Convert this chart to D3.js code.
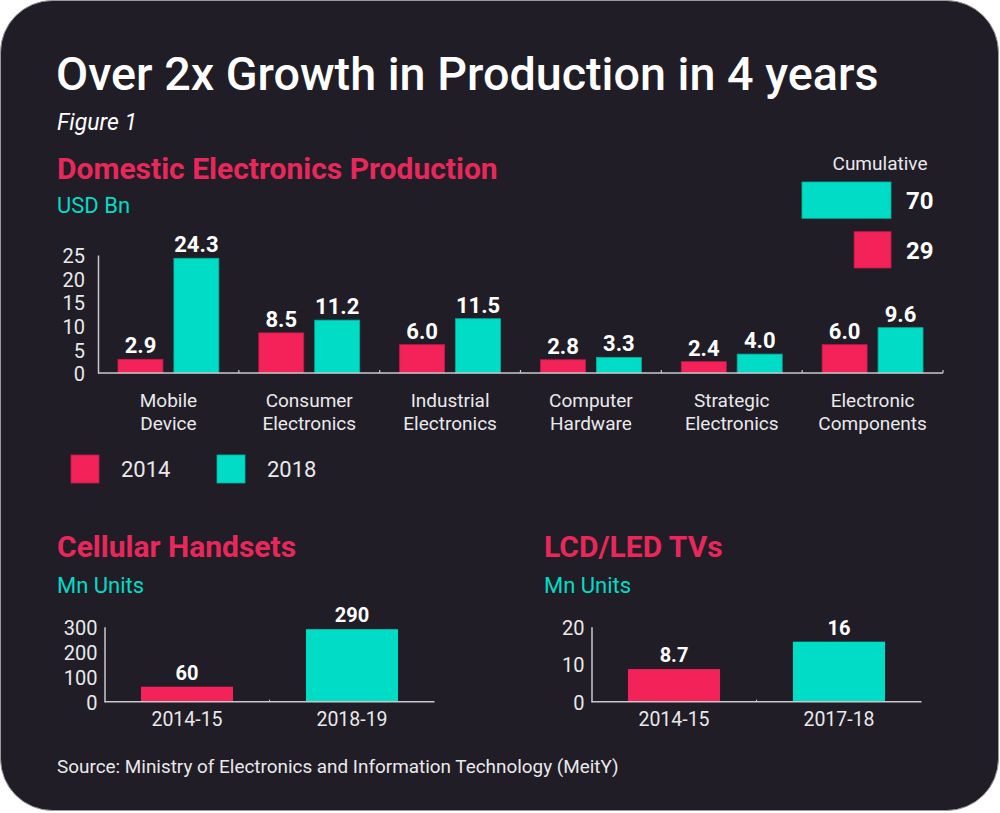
<!DOCTYPE html>
<html>
<head>
<meta charset="utf-8">
<script src="https://cdn.jsdelivr.net/npm/d3@7"></script>
<style>
  html, body { margin: 0; padding: 0; background: #ffffff; }
  svg { display: block; font-family: Roboto, "Noto Sans", sans-serif; }
</style>
</head>
<body>
<svg id="chart" width="1000" height="813"></svg>
<script>
// ---------- data ----------
const categories = [["Mobile", "Device"], ["Consumer", "Electronics"], ["Industrial", "Electronics"],
                    ["Computer", "Hardware"], ["Strategic", "Electronics"], ["Electronic", "Components"]];
const seriesYears = ["2014", "2018"];
const values2014 = [2.9, 8.5, 6.0, 2.8, 2.4, 6.0];
const values2018 = [24.3, 11.2, 11.5, 3.3, 4.0, 9.6];
const mainTicks = [0, 5, 10, 15, 20, 25];

const cumulativeLabels = ["2018", "2014"];
const cumulativeValues = [70, 29];

const handsetYears = ["2014-15", "2018-19"];
const handsetValues = [60, 290];
const handsetTicks = [0, 100, 200, 300];

const tvYears = ["2014-15", "2017-18"];
const tvValues = [8.7, 16];
const tvLabels = ["8.7", "16"];
const tvTicks = [0, 10, 20];

// ---------- styles ----------
const RED = "#f32259", TEAL = "#00dcc6";
const RED_T = "#e8285a";
const BG = "#201d27";
const AXIS = "#c9c9cc";
const TXT = "#e9e9ea";

const svg = d3.select("#chart");

svg.append("rect").attr("x", 0.5).attr("y", 0.5).attr("width", 998).attr("height", 810)
  .attr("rx", 52).attr("ry", 52).attr("fill", BG).attr("stroke", "#9a9a9a").attr("stroke-width", 1);

// titles
svg.append("text").attr("x", 56).attr("y", 90).attr("fill", "#ffffff")
  .attr("font-size", 46.7).attr("font-weight", 500).text("Over 2x Growth in Production in 4 years");
svg.append("text").attr("x", 57).attr("y", 130).attr("fill", "#ffffff")
  .attr("font-size", 23).attr("font-style", "italic").text("Figure 1");
svg.append("text").attr("x", 57).attr("y", 179).attr("fill", RED_T)
  .attr("font-size", 30).attr("font-weight", 700).text("Domestic Electronics Production");
svg.append("text").attr("x", 57).attr("y", 213).attr("fill", TEAL)
  .attr("font-size", 22).text("USD Bn");

// ---------- main grouped bar chart ----------
const data = categories.map((c, i) => ({ cat: c, vals: [values2014[i], values2018[i]] }));
const x0 = d3.scaleBand().domain(d3.range(categories.length)).range([98, 943]).padding(0);
const x1 = d3.scaleBand().domain(seriesYears).range([0, x0.bandwidth()]).paddingInner(0.196).paddingOuter(0.357);
const y = d3.scaleLinear().domain([0, 25]).range([373, 255]);
const colors = d3.scaleOrdinal().domain(seriesYears).range([RED, TEAL]);

const main = svg.append("g");
const groups = main.selectAll("g.cat").data(data).join("g")
  .attr("transform", (d, i) => `translate(${x0(i)},0)`);
groups.selectAll("rect").data(d => d.vals.map((v, j) => ({ year: seriesYears[j], v })))
  .join("rect")
  .attr("x", d => x1(d.year)).attr("width", x1.bandwidth())
  .attr("y", d => y(d.v)).attr("height", d => y(0) - y(d.v))
  .attr("fill", d => colors(d.year))
  .attr("stroke", d => d3.color(colors(d.year)).darker(0.6)).attr("stroke-width", 0.8);
groups.selectAll("text.val").data(d => d.vals.map((v, j) => ({ year: seriesYears[j], v })))
  .join("text").attr("class", "val")
  .attr("x", d => x1(d.year) + x1.bandwidth() / 2).attr("y", d => y(d.v) - 6)
  .attr("text-anchor", "middle").attr("fill", "#ffffff").attr("font-size", 22).attr("font-weight", 700)
  .text(d => d3.format(".1f")(d.v));
groups.each(function (d) {
  const t = d3.select(this).append("text").attr("text-anchor", "middle").attr("fill", TXT).attr("font-size", 19);
  t.append("tspan").attr("x", x0.bandwidth() / 2).attr("y", 407).text(d.cat[0]);
  t.append("tspan").attr("x", x0.bandwidth() / 2).attr("y", 430).text(d.cat[1]);
});

// axes
const yAxisG = main.append("g").attr("transform", "translate(98,0)")
  .call(d3.axisLeft(y).tickValues(mainTicks).tickSize(0).tickPadding(13));
yAxisG.select(".domain").attr("stroke", AXIS).attr("stroke-width", 1.5);
yAxisG.selectAll("text").attr("fill", TXT).attr("font-size", 20).attr("font-family", "Roboto").attr("dy", "0.38em");

const xEdges = d3.range(categories.length + 1).map(i => i === categories.length ? 943 : x0(i));
main.append("line").attr("x1", 98).attr("x2", 943).attr("y1", y(0)).attr("y2", y(0))
  .attr("stroke", AXIS).attr("stroke-width", 1.5);
main.selectAll("line.tk").data(xEdges.slice(1)).join("line").attr("class", "tk")
  .attr("x1", d => d).attr("x2", d => d).attr("y1", y(0)).attr("y2", y(0) - 3)
  .attr("stroke", AXIS).attr("stroke-width", 1.2);

// legend
const leg = svg.append("g");
const legX = [71, 217];
seriesYears.forEach((s, i) => {
  leg.append("rect").attr("x", legX[i]).attr("y", 455).attr("width", 28).attr("height", 28)
    .attr("fill", colors(s)).attr("stroke", d3.color(colors(s)).darker(0.6)).attr("stroke-width", 0.8);
  leg.append("text").attr("x", legX[i] + 50).attr("y", 477).attr("fill", TXT).attr("font-size", 22).text(s);
});

// cumulative
const cx = d3.scaleLinear().domain([0, 70]).range([0, 89]);
const cy = d3.scaleBand().domain(cumulativeLabels).range([182, 268]).paddingInner(0.27);
svg.append("text").attr("x", 880).attr("y", 170).attr("text-anchor", "middle").attr("fill", TXT)
  .attr("font-size", 19).text("Cumulative");
const cum = svg.append("g");
cumulativeLabels.forEach((l, i) => {
  const v = cumulativeValues[i];
  cum.append("rect").attr("x", 891 - cx(v)).attr("width", cx(v)).attr("y", cy(l)).attr("height", cy.bandwidth())
    .attr("fill", colors(l)).attr("stroke", d3.color(colors(l)).darker(0.6)).attr("stroke-width", 0.8);
  cum.append("text").attr("x", 906).attr("y", cy(l) + cy.bandwidth() / 2 + 9).attr("fill", "#ffffff")
    .attr("font-size", 24).attr("font-weight", 700).text(v);
});

// ---------- small charts ----------
function smallChart(left, title, cats, vals, labels, ticks, maxV) {
  const g = svg.append("g");
  g.append("text").attr("x", left).attr("y", 557).attr("fill", RED_T)
    .attr("font-size", 30).attr("font-weight", 700).text(title);
  g.append("text").attr("x", left).attr("y", 593).attr("fill", TEAL).attr("font-size", 22).text("Mn Units");
  const ax = left + 47.5;
  const xs = d3.scaleBand().domain(cats).range([ax, ax + 330]).paddingInner(0.442).paddingOuter(0.221);
  const ys = d3.scaleLinear().domain([0, maxV]).range([701.7, 626.7]);
  g.selectAll("rect").data(cats).join("rect")
    .attr("x", d => xs(d)).attr("width", xs.bandwidth())
    .attr("y", (d, i) => ys(vals[i])).attr("height", (d, i) => ys(0) - ys(vals[i]))
    .attr("fill", (d, i) => i === 0 ? RED : TEAL);
  g.selectAll("text.val").data(cats).join("text").attr("class", "val")
    .attr("x", d => xs(d) + xs.bandwidth() / 2).attr("y", (d, i) => ys(vals[i]) - 7)
    .attr("text-anchor", "middle").attr("fill", "#ffffff").attr("font-size", 20).attr("font-weight", 700)
    .text((d, i) => labels[i]);
  g.selectAll("text.cat").data(cats).join("text").attr("class", "cat")
    .attr("x", d => xs(d) + xs.bandwidth() / 2).attr("y", 726)
    .attr("text-anchor", "middle").attr("fill", TXT).attr("font-size", 19.5).text(d => d);
  const ya = g.append("g").attr("transform", `translate(${ax},0)`)
    .call(d3.axisLeft(ys).tickValues(ticks).tickSize(0).tickPadding(7));
  ya.select(".domain").attr("stroke", AXIS).attr("stroke-width", 1.5);
  ya.selectAll("text").attr("fill", TXT).attr("font-size", 20).attr("font-family", "Roboto").attr("dy", "0.38em");
  g.append("line").attr("x1", ax).attr("x2", ax + 330).attr("y1", ys(0)).attr("y2", ys(0))
    .attr("stroke", AXIS).attr("stroke-width", 1.5);
  g.append("line").attr("x1", ax + 165).attr("x2", ax + 165).attr("y1", ys(0)).attr("y2", ys(0) - 2)
    .attr("stroke", AXIS).attr("stroke-width", 1);
}
smallChart(57, "Cellular Handsets", handsetYears, handsetValues, handsetValues.map(String), handsetTicks, 300);
smallChart(544, "LCD/LED TVs", tvYears, tvValues, tvLabels, tvTicks, 20);

svg.append("text").attr("x", 57).attr("y", 773).attr("fill", TXT).attr("font-size", 18.9)
  .text("Source: Ministry of Electronics and Information Technology (MeitY)");
</script>
</body>
</html>
